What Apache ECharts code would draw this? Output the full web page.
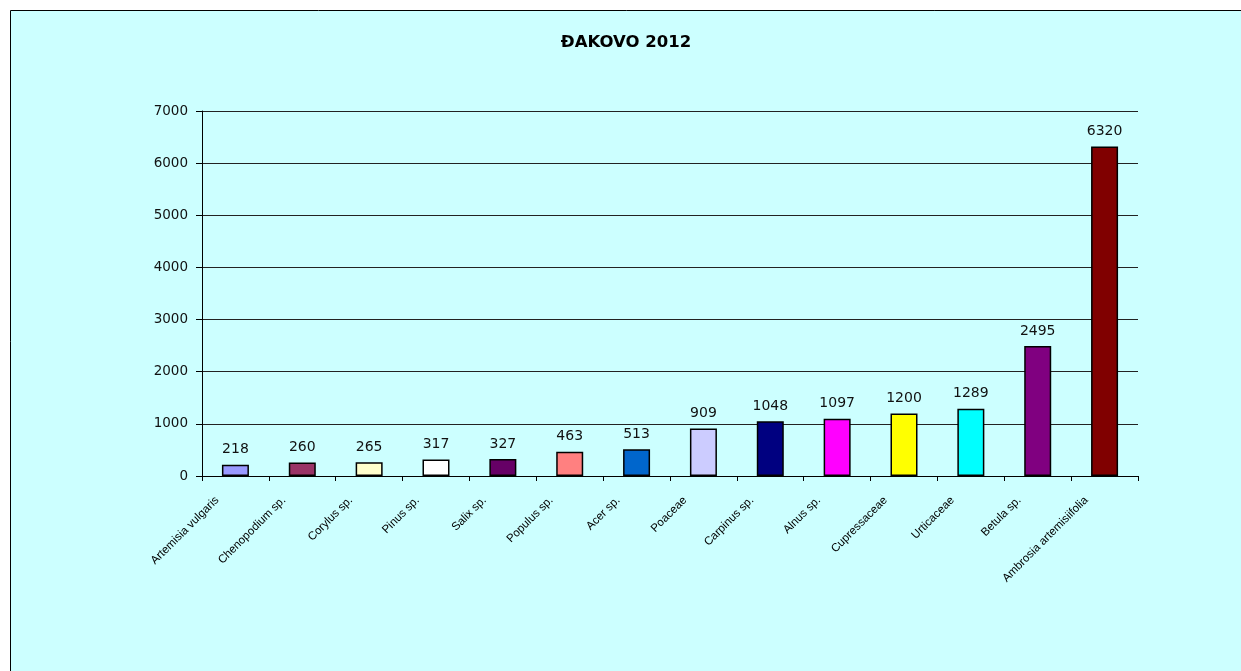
<!DOCTYPE html>
<html><head><meta charset="utf-8">
<script src="https://cdn.jsdelivr.net/npm/echarts@6/dist/echarts.min.js"></script>
<style>html,body{margin:0;padding:0;background:#fff}#c{width:1241px;height:671px}</style>
</head><body><div id="c"></div>
<script>
const categories = ["Artemisia vulgaris","Chenopodium sp.","Corylus sp.","Pinus sp.","Salix sp.","Populus sp.","Acer sp.","Poaceae","Carpinus sp.","Alnus sp.","Cupressaceae","Urticaceae","Betula sp.","Ambrosia artemisiifolia"];
const values = [218,260,265,317,327,463,513,909,1048,1097,1200,1289,2495,6320];
const barColors = ["#9999FF","#993366","#FFFFCC","#FFFFFF","#660066","#FF8080","#0066CC","#CCCCFF","#000080","#FF00FF","#FFFF00","#00FFFF","#800080","#800000"];
const yTicks = [0,1000,2000,3000,4000,5000,6000,7000];
const title = "ĐAKOVO 2012";

const chart = echarts.init(document.getElementById('c'), null, {renderer:'canvas'});
chart.setOption({
  backgroundColor: '#ffffff',
  animation: false,
  graphic: [{
    type: 'rect', z: -10, silent: true,
    shape: {x: 10.5, y: 10.5, width: 1240, height: 670},
    style: {fill: '#CCFFFF', stroke: '#000', lineWidth: 1}
  }],
  title: {
    text: title, left: 621, textAlign: 'center', top: 29,
    textStyle: {fontFamily: 'DejaVu Sans', fontWeight: 'bold', fontSize: 16.5, color: '#000'}
  },
  grid: {left: 202, top: 111, right: 103, bottom: 195, containLabel: false},
  xAxis: {
    type: 'category', data: categories,
    axisLine: {lineStyle: {color: '#000', width: 1}},
    axisTick: {show: true, length: 5, lineStyle: {color: '#000'}},
    axisLabel: {
      rotate: 45, interval: 0, margin: 4,
      fontFamily: 'Liberation Sans, Arial', fontSize: 11.5, color: '#000',
      padding: [0, 26, 0, 0]
    }
  },
  yAxis: {
    type: 'value', min: 0, max: 7000, interval: 1000,
    axisLine: {show: true, lineStyle: {color: '#000'}},
    axisTick: {show: true, length: 6, lineStyle: {color: '#000'}},
    axisLabel: {fontFamily: 'DejaVu Sans', fontSize: 13.5, color: '#111', margin: 14,
      formatter: v => yTicks.includes(v) ? String(v) : ''},
    splitLine: {show: true, lineStyle: {color: '#222', width: 1}}
  },
  series: [{
    type: 'bar',
    data: values.map((v, i) => ({value: v, itemStyle: {color: barColors[i]}})),
    barWidth: 27,
    itemStyle: {borderColor: '#000', borderWidth: 1.5},
    label: {show: true, position: 'top', distance: 8,
      fontFamily: 'DejaVu Sans', fontSize: 14, color: '#111'}
  }]
});
</script></body></html>
